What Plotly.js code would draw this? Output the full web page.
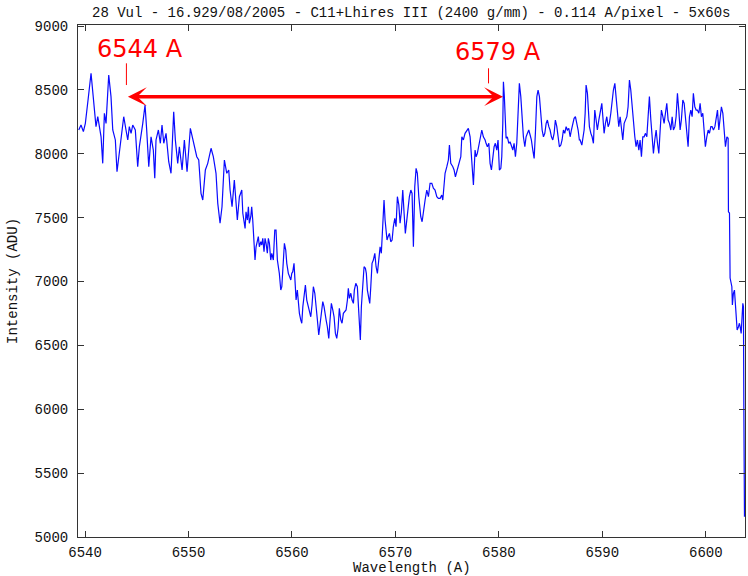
<!DOCTYPE html>
<html>
<head>
<meta charset="utf-8">
<script src="https://cdn.plot.ly/plotly-3.0.1.min.js"></script>
<style>
  html, body { margin: 0; padding: 0; background: #ffffff; }
  #chart { width: 748px; height: 576px; }
</style>
</head>
<body>
<div id="chart"></div>
<script>
// 28 Vul, H-alpha region, Lhires III 2400 g/mm spectrum
const wavelength = [
  6539.39, 6539.61, 6539.84, 6540.03, 6540.29, 6540.58, 6541.06, 6541.23, 6541.55, 6541.71,
  6541.87, 6542.03, 6542.29, 6542.51, 6542.68, 6542.93, 6543.09, 6543.32, 6543.58, 6543.74,
  6543.96, 6544.13, 6544.28, 6544.45, 6544.61, 6544.86, 6545.09, 6545.25, 6545.58, 6545.80,
  6545.96, 6546.16, 6546.38, 6546.60, 6546.74, 6546.86, 6547.09, 6547.28, 6547.44, 6547.61,
  6547.83, 6548.09, 6548.31, 6548.57, 6548.73, 6548.96, 6549.12, 6549.38, 6549.60, 6549.86,
  6550.18, 6550.41, 6550.57, 6550.80, 6550.99, 6551.21, 6551.38, 6551.63, 6551.86, 6552.18,
  6552.40, 6552.66, 6552.83, 6553.05, 6553.24, 6553.47, 6553.70, 6553.89, 6554.02, 6554.21,
  6554.43, 6554.72, 6554.92,
  6555.15, 6555.25, 6555.37, 6555.47, 6555.56, 6555.69, 6555.79, 6555.88, 6556.02, 6556.11,
  6556.21, 6556.34, 6556.43, 6556.53, 6556.66, 6556.75, 6556.85, 6556.99, 6557.08, 6557.18,
  6557.30, 6557.40, 6557.50, 6557.62, 6557.72, 6557.82, 6557.95, 6558.05, 6558.20, 6558.34,
  6558.46, 6558.59, 6558.78, 6558.92, 6559.02, 6559.17, 6559.27, 6559.40, 6559.50, 6559.65,
  6559.75, 6559.89, 6559.98, 6560.08, 6560.20, 6560.30, 6560.40, 6560.52, 6560.62, 6560.72,
  6560.85, 6560.95, 6561.05, 6561.17, 6561.30, 6561.43, 6561.56, 6561.69, 6561.82, 6561.94,
  6562.07, 6562.21, 6562.33, 6562.46, 6562.59, 6562.72, 6562.84, 6562.98, 6563.10, 6563.20,
  6563.30, 6563.42, 6563.56, 6563.68, 6563.81, 6563.95, 6564.07, 6564.20, 6564.33, 6564.46,
  6564.58, 6564.72, 6564.84, 6564.97, 6565.11, 6565.23, 6565.36, 6565.45, 6565.55, 6565.69,
  6565.81, 6565.94, 6566.03, 6566.17, 6566.32, 6566.42, 6566.52, 6566.61, 6566.71, 6566.85,
  6566.97, 6567.10, 6567.19, 6567.29, 6567.43, 6567.52, 6567.62, 6567.74, 6567.87, 6568.01,
  6568.13, 6568.26, 6568.39, 6568.52, 6568.64, 6568.78, 6568.90, 6569.00, 6569.10, 6569.19,
  6569.29, 6569.42, 6569.55, 6569.68, 6569.80, 6569.94, 6570.06, 6570.19, 6570.33, 6570.45,
  6570.58, 6570.71, 6570.84, 6570.96, 6571.10, 6571.22, 6571.35, 6571.49, 6571.61, 6571.74,
  6571.87, 6572.00, 6572.12, 6572.26,
  6572.45, 6572.58, 6572.70, 6572.87, 6573.03, 6573.19, 6573.35, 6573.52, 6573.67, 6573.83,
  6574.00, 6574.15, 6574.32, 6574.48, 6574.58, 6574.70, 6574.80, 6574.97, 6575.12, 6575.22,
  6575.35, 6575.55, 6575.67, 6575.80, 6575.93, 6576.09, 6576.18, 6576.32, 6576.42, 6576.57,
  6576.73, 6576.90, 6577.05, 6577.22, 6577.38, 6577.54, 6577.70, 6577.80, 6577.92, 6578.06,
  6578.18, 6578.35, 6578.50, 6578.67, 6578.76, 6578.89, 6579.03, 6579.15, 6579.28, 6579.41,
  6579.54, 6579.66, 6579.80, 6579.92, 6580.05, 6580.19, 6580.28, 6580.38, 6580.44, 6580.53,
  6580.63, 6580.70, 6580.82, 6580.96, 6581.08, 6581.21, 6581.35, 6581.47, 6581.60, 6581.73,
  6581.86, 6581.98, 6582.12, 6582.24, 6582.37, 6582.51, 6582.63, 6582.76, 6582.89, 6583.02,
  6583.14, 6583.28, 6583.41, 6583.53, 6583.67, 6583.79, 6583.92, 6584.05, 6584.18, 6584.31,
  6584.44, 6584.57, 6584.69, 6584.83, 6584.95, 6585.08, 6585.21, 6585.34, 6585.46, 6585.60,
  6585.73, 6585.85, 6585.99, 6586.11, 6586.24, 6586.37, 6586.50, 6586.62, 6586.76, 6586.89,
  6587.01, 6587.15, 6587.27, 6587.40, 6587.53, 6587.66, 6587.78,
  6587.85, 6588.02, 6588.11, 6588.24, 6588.34, 6588.43, 6588.56, 6588.66, 6588.75, 6588.89,
  6589.01, 6589.14, 6589.27, 6589.40, 6589.52, 6589.66, 6589.78, 6589.95, 6590.05, 6590.17,
  6590.30, 6590.43, 6590.56, 6590.68, 6590.82, 6590.95, 6591.07, 6591.21, 6591.33, 6591.46,
  6591.59, 6591.72, 6591.84, 6591.98, 6592.11, 6592.23, 6592.37, 6592.49, 6592.62, 6592.75,
  6592.88, 6593.00, 6593.14, 6593.26, 6593.39, 6593.53, 6593.65, 6593.78, 6593.91, 6594.04,
  6594.16, 6594.30, 6594.43, 6594.55, 6594.69, 6594.81, 6594.94, 6595.07, 6595.20, 6595.33,
  6595.46, 6595.59, 6595.71, 6595.85, 6595.97, 6596.10, 6596.23, 6596.36, 6596.49, 6596.62,
  6596.75, 6596.87, 6597.01, 6597.13, 6597.26, 6597.39, 6597.52, 6597.64, 6597.78, 6597.91,
  6598.03, 6598.17, 6598.29, 6598.42, 6598.55, 6598.68, 6598.80, 6598.94, 6599.07, 6599.19,
  6599.33, 6599.45, 6599.58, 6599.71, 6599.84, 6599.96, 6600.10, 6600.23, 6600.35, 6600.49,
  6600.61, 6600.74, 6600.88, 6601.00, 6601.13, 6601.26, 6601.39, 6601.51, 6601.65, 6601.77,
  6601.90, 6602.04, 6602.16,
  6602.19, 6602.29, 6602.35, 6602.52, 6602.57, 6602.67, 6602.77, 6602.86, 6602.93, 6603.03,
  6603.16, 6603.25, 6603.32, 6603.42, 6603.58, 6603.64, 6603.68, 6603.74
];

const intensity = [
  8186, 8225, 8173, 8238, 8421, 8630, 8212, 8290, 8133, 7925,
  8317, 8238, 8616, 8447, 8186, 8108, 7859, 8003, 8186, 8290,
  8186, 8108, 8212, 8160, 8225, 8186, 7899, 8055, 8238, 8382,
  8186, 7899, 8133, 8029, 7808, 8108, 8186, 8082, 8225, 8082,
  8160, 7938, 7847, 8329, 8108, 7925, 8055, 7873, 8108, 7859,
  8199, 8108, 8068, 7977, 7951, 7690, 7638, 7873, 7925, 8043,
  7977, 7847, 7612, 7456, 7585, 7951, 7847, 7873, 7716, 7585,
  7794, 7481, 7664,
  7716, 7534, 7481, 7416, 7546, 7481, 7585, 7456, 7507, 7585,
  7481, 7286, 7168, 7272, 7325, 7351, 7272, 7311, 7286, 7338,
  7233, 7338, 7299, 7221, 7338, 7299, 7168, 7221, 7168, 7403,
  7403, 7168, 7064, 6933, 6959, 7221, 7299, 7246, 7142, 7064,
  7037, 7012, 7064, 7077, 7142, 7012, 6855, 6933, 6829, 6751,
  6699, 6673, 6803, 6908, 6973, 6855, 6803, 6777, 6724, 6816,
  6959, 6908, 6829, 6699, 6581, 6673, 6724, 6842, 6803, 6724,
  6699, 6646, 6555, 6699, 6829, 6777, 6724, 6594, 6555, 6634,
  6790, 6699, 6673, 6751, 6763, 6777, 6855, 6947, 6868, 6908,
  6855, 6829, 6933, 6986, 6959, 6803, 6673, 6542, 6803, 7012,
  7116, 7103, 7064, 6933, 6881, 6829, 6959, 7142, 7168, 7221,
  7116, 7064, 7168, 7272, 7221, 7403, 7638, 7481, 7351, 7325,
  7351, 7377, 7311, 7325, 7429, 7495, 7429, 7664, 7599, 7456,
  7546, 7716, 7534, 7377, 7481, 7585, 7664, 7716, 7690, 7272,
  7742, 7886, 7847, 7664,
  7507, 7468, 7560, 7638, 7716, 7664, 7769, 7769, 7730, 7716,
  7664, 7651, 7651, 7677, 7638, 7742, 7847, 7899, 7951, 8068,
  7925, 7899, 7873, 7820, 7859, 7899, 7925, 7977, 8133, 8108,
  8160, 8186, 8199, 8133, 7899, 7755, 8029, 7977, 8003, 8055,
  8108, 8186, 8133, 8108, 8082, 8055, 8082, 7925, 7873, 7977,
  8055, 8082, 8029, 8108, 7873, 7886, 7977, 8238, 8564, 8447,
  8238, 8121, 8133, 8082, 8094, 8055, 8029, 8082, 7977, 8082,
  8368, 8551, 8447, 8290, 8133, 8055, 8133, 8160, 8186, 8147,
  8108, 8029, 7964, 8160, 8447, 8499, 8447, 8317, 8186, 8133,
  8160, 8238, 8264, 8212, 8186, 8133, 8108, 8160, 8264, 8212,
  8133, 8055, 8068, 8108, 8186, 8160, 8212, 8186, 8199, 8133,
  8186, 8238, 8277, 8290, 8238, 8186, 8108,
  8108, 8068, 8108, 8186, 8317, 8538, 8473, 8342, 8212, 8160,
  8133, 8082, 8342, 8264, 8186, 8264, 8317, 8395, 8290, 8160,
  8238, 8290, 8212, 8238, 8317, 8421, 8499, 8551, 8447, 8290,
  8212, 8290, 8186, 8108, 8238, 8264, 8290, 8368, 8577, 8499,
  8368, 8238, 8133, 8055, 8108, 8029, 8108, 7977, 8133, 8133,
  8160, 8133, 8264, 8447, 8264, 8108, 8003, 8108, 8186, 8082,
  8003, 8186, 8342, 8290, 8238, 8317, 8395, 8264, 8238, 8186,
  8290, 8186, 8212, 8290, 8473, 8342, 8186, 8264, 8421, 8395,
  8290, 8186, 8055, 8290, 8342, 8290, 8473, 8368, 8342, 8342,
  8317, 8395, 8290, 8317, 8186, 8055, 8133, 8186, 8160, 8212,
  8212, 8186, 8212, 8264, 8342, 8186, 8290, 8368, 8317, 8160,
  8055, 8133, 8121,
  7546, 7536, 7027, 6959, 6816, 6908, 6933, 6803, 6699, 6620,
  6646, 6673, 6646, 6594, 6829, 6803, 5994, 5159
];

const xTicks = [6540, 6550, 6560, 6570, 6580, 6590, 6600];
const yTicks = [5000, 5500, 6000, 6500, 7000, 7500, 8000, 8500, 9000];

// Marked wavelengths and their labels
const markLambda = [6544, 6579];
const markLabels = ['6544 A', '6579 A'];

const chartTitle = '28 Vul - 16.929/08/2005 - C11+Lhires III (2400 g/mm) - 0.114 A/pixel - 5x60s';
const xTitle = 'Wavelength (A)';
const yTitle = 'Intensity (ADU)';

const monoFont = { family: 'Liberation Mono, DejaVu Sans Mono, monospace', size: 14, color: '#111111' };
const red = '#ff0000';

const trace = {
  x: wavelength,
  y: intensity,
  type: 'scatter',
  mode: 'lines',
  line: { color: '#0a0aff', width: 1.2 },
  hoverinfo: 'skip'
};

const axisCommon = {
  showgrid: false,
  zeroline: false,
  showline: true,
  linecolor: '#333333',
  linewidth: 1,
  mirror: 'ticks',
  ticks: 'inside',
  ticklen: 6,
  tickwidth: 1,
  tickcolor: '#333333',
  tickfont: monoFont,
  fixedrange: true
};

const layout = {
  width: 748,
  height: 576,
  margin: { l: 78, r: 3, t: 25, b: 39 },
  paper_bgcolor: '#ffffff',
  plot_bgcolor: '#ffffff',
  showlegend: false,
  xaxis: Object.assign({}, axisCommon, {
    range: [6539.32, 6603.79],
    tickmode: 'array',
    tickvals: xTicks,
    ticktext: xTicks.map(String),
    ticklabelstandoff: 2
  }),
  yaxis: Object.assign({}, axisCommon, {
    range: [5000, 9008],
    tickmode: 'array',
    tickvals: yTicks,
    ticktext: yTicks.map(String),
    ticklabelstandoff: 6
  }),
  shapes: [
    { type: 'line', xref: 'x', yref: 'y', x0: markLambda[0], x1: markLambda[0], y0: 8538, y1: 8708,
      line: { color: red, width: 1 } },
    { type: 'line', xref: 'x', yref: 'y', x0: markLambda[1], x1: markLambda[1], y0: 8551, y1: 8669,
      line: { color: red, width: 1 } }
  ],
  annotations: [
    { text: chartTitle, xref: 'paper', yref: 'paper', x: 0.5, y: 1.0234,
      xanchor: 'center', yanchor: 'middle', showarrow: false, font: monoFont },
    { text: xTitle, xref: 'paper', yref: 'paper', x: 0.5, y: -0.0615,
      xanchor: 'center', yanchor: 'middle', showarrow: false, font: monoFont },
    { text: yTitle, xref: 'paper', yref: 'paper', x: -0.0975, y: 0.5, textangle: -90,
      xanchor: 'center', yanchor: 'middle', showarrow: false, font: monoFont },
    { text: markLabels[0], xref: 'x', yref: 'y', x: 6545.32, y: 8820,
      xanchor: 'center', yanchor: 'middle', showarrow: false,
      font: { family: 'DejaVu Sans, Liberation Sans, Arial, sans-serif', size: 24, color: red } },
    { text: markLabels[1], xref: 'x', yref: 'y', x: 6579.95, y: 8796,
      xanchor: 'center', yanchor: 'middle', showarrow: false,
      font: { family: 'DejaVu Sans, Liberation Sans, Arial, sans-serif', size: 24, color: red } },
    // double-headed arrow spanning the marked interval
    { text: '', xref: 'x', yref: 'y', axref: 'x', ayref: 'y',
      x: 6580.4, y: 8447, ax: markLambda[0], ay: 8447,
      showarrow: true, arrowside: 'end+start', arrowhead: 3, startarrowhead: 3,
      arrowsize: 0.9, startarrowsize: 0.9, arrowwidth: 3.5, arrowcolor: red,
      standoff: 0, startstandoff: 0 }
  ]
};

Plotly.newPlot('chart', [trace], layout, { staticPlot: true, displayModeBar: false });
</script>
</body>
</html>
